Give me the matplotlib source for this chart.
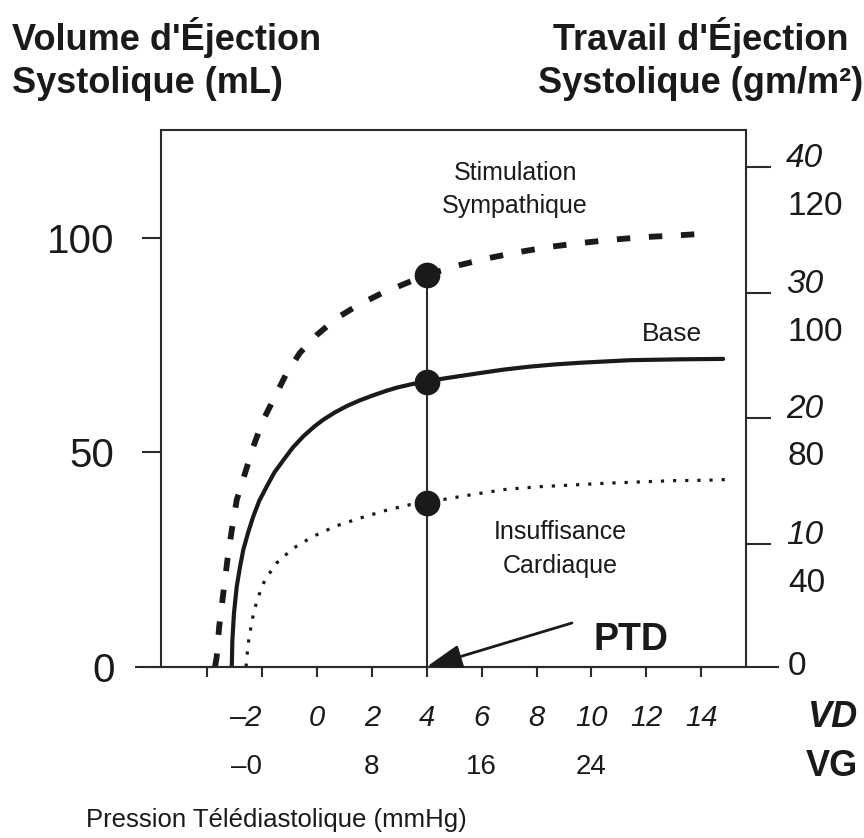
import matplotlib
matplotlib.use('Agg')
import matplotlib.pyplot as plt
from matplotlib.patches import ArrowStyle

plt.rcParams['font.family'] = ['Liberation Sans', 'DejaVu Sans']

# courbes (x = PTD du VD en mmHg, y = VES en mL)
symp_x = [-3.71, -3.65, -3.56, -3.41, -3.26, -3.10, -2.92, -2.62, -2.32, -1.95,
          -1.53, -1.10, -0.62, 0.0, 0.72, 1.51, 2.36, 3.27, 4.0, 5.21,
          6.24, 7.34, 8.43, 9.58, 10.74, 11.89, 13.11, 14.3]
symp_y = [0, 2.3, 9.3, 17.1, 24.9, 31.9, 38.9, 45.1, 51.3, 57.6,
          63.0, 68.5, 73.2, 77.4, 81.3, 84.4, 87.1, 89.5, 91.4, 93.7,
          95.3, 96.7, 97.9, 98.8, 99.6, 100.2, 100.6, 101.1]

base_x = [-3.10, -3.08, -3.02, -2.92, -2.80, -2.68, -2.50, -2.32, -2.10, -1.83,
          -1.55, -1.22, -0.88, -0.50, -0.10, 0.23, 0.65, 1.09, 1.55, 2.05,
          2.50, 2.91, 3.45, 4.0, 4.90, 5.94, 6.80, 7.76, 8.65, 9.58,
          10.50, 11.41, 12.30, 13.23, 14.80]
base_y = [0, 6.0, 12.5, 18.7, 23.3, 27.3, 31.4, 35.0, 38.7, 42.0,
          45.3, 48.2, 51.1, 53.7, 56.0, 57.6, 59.3, 60.8, 62.1, 63.3,
          64.3, 65.1, 65.9, 66.6, 67.5, 68.5, 69.3, 70.0, 70.5, 70.9,
          71.2, 71.5, 71.6, 71.7, 71.8]

insuf_x = [-2.58, -2.51, -2.36, -2.18, -1.89, -1.45, -0.87, -0.14, 0.73, 1.64,
           2.59, 3.39, 4.0, 4.60, 5.70, 6.91, 8.13, 9.34, 10.56, 11.77,
           12.98, 14.20, 15.11]
insuf_y = [0, 5.1, 10.9, 15.6, 20.3, 24.3, 27.6, 30.4, 32.9, 34.8,
           36.6, 37.8, 38.3, 39.0, 40.2, 41.4, 42.0, 42.4, 42.8, 43.1,
           43.4, 43.5, 43.7]

ptd = 4
pts_y = [91.4, 66.4, 38.3]

left_ticks = [0, 50, 100]
vd_ticks = [-4, -2, 0, 2, 4, 6, 8, 10, 12, 14]
vd_labels = ['', '–2', '0', '2', '4', '6', '8', '10', '12', '14']
vg_pos = [-2, 2, 6, 10]
vg_labels = ['–0', '8', '16', '24']
# travail d'ejection : graduations en italique (VD) et valeurs droites (VG)
work_ticks = [28.6, 58.0, 87.2, 116.6]
work_labels = ['10', '20', '30', '40']
work2_pos = [107.4, 77.9, 49.0, 19.5, 0]
work2_labels = ['120', '100', '80', '40', '0']

ink = '#1a1a1a'
axc = '#2b2b2b'

fig = plt.figure(figsize=(8.64, 8.38), dpi=100)
ax = fig.add_axes([0.1863, 0.2044, 0.6771, 0.6405])
ax.set_xlim(-5.68, 15.63)
ax.set_ylim(0, 125.2)

for s in ax.spines.values():
    s.set_color(axc)
    s.set_linewidth(1.5)

ax.plot(symp_x, symp_y, color=ink, lw=4.2, dashes=(2.3, 3.2), solid_capstyle='butt')
ax.plot(base_x, base_y, color=ink, lw=3, solid_capstyle='round', solid_joinstyle='round')
ax.plot(insuf_x, insuf_y, color=ink, lw=2.3, dashes=(1.0, 2.8))

ax.plot([ptd, ptd], [0, pts_y[0]], color=axc, lw=1.5, zorder=3)
ax.plot([ptd] * len(pts_y), pts_y, 'o', color=ink, ms=17.5, zorder=4, clip_on=False)

# prolongement de l'axe des x a gauche et a droite
ax.plot([-0.0444, 1.0564], [0, 0], transform=ax.transAxes, color=axc, lw=1.5,
        clip_on=False, solid_capstyle='butt')

ax.set_yticks(left_ticks)
ax.tick_params(axis='y', direction='out', length=13.5, width=1.5, color=axc,
               labelsize=29, pad=20, labelcolor=ink)
ax.set_xticks(vd_ticks, labels=vd_labels)
ax.tick_params(axis='x', direction='out', length=7, width=1.5, color=axc,
               labelsize=21, pad=20, labelcolor=ink)
for lab in ax.get_xticklabels():
    lab.set_fontstyle('italic')
    if lab.get_text().startswith('–'):
        lab.set_ha('right')

tr = ax.get_xaxis_transform()
for p, l in zip(vg_pos, vg_labels):
    ax.text(p, -0.187, l, transform=tr, ha='right' if l.startswith('–') else 'center',
            va='center', fontsize=20, color=ink)

ax2 = ax.twinx()
ax2.set_ylim(ax.get_ylim())
for s in ax2.spines.values():
    s.set_visible(False)
ax2.set_yticks(work_ticks, labels=work_labels)
ax2.tick_params(axis='y', direction='out', length=18, width=1.5, color=axc,
                labelsize=24, pad=11, labelcolor=ink)
for lab in ax2.get_yticklabels():
    lab.set_fontstyle('italic')
    lab.set_va('baseline')

tr2 = ax.get_yaxis_transform()
for p, l in zip(work2_pos, work2_labels):
    ax.text(1.0718, p, l, transform=tr2, ha='left', va='center', fontsize=24, color=ink)

ax.text(7.22, 111.3, 'Stimulation\nSympathique', ha='center', va='center',
        fontsize=18, linespacing=1.5, color=ink)
ax.text(12.94, 77.6, 'Base', ha='center', va='center', fontsize=19, color=ink)
ax.text(8.86, 27.5, 'Insuffisance\nCardiaque', ha='center', va='center',
        fontsize=18, linespacing=1.5, color=ink)
ax.text(11.45, 6.2, 'PTD', ha='center', va='center', fontsize=27,
        fontweight='bold', color=ink)
ax.annotate('', xy=(ptd, 0), xytext=(9.29, 10.2),
            arrowprops=dict(arrowstyle=ArrowStyle('-|>', head_length=0.6, head_width=0.2),
                            mutation_scale=36, lw=2, color=ink,
                            shrinkA=0, shrinkB=0), zorder=5)

fig.text(12 / 864, 1 - 17 / 838, "Volume d'Éjection\nSystolique (mL)", ha='left',
         va='top', fontsize=26, fontweight='bold', linespacing=1.3, color=ink)
fig.text(701 / 864, 1 - 17 / 838, "Travail d'Éjection\nSystolique (gm/m²)",
         ha='center', va='top', fontsize=26, fontweight='bold', linespacing=1.3,
         multialignment='center', color=ink)
fig.text(858 / 864, 1 - 717 / 838, 'VD', ha='right', va='center', fontsize=26,
         fontweight='bold', fontstyle='italic', color=ink)
fig.text(858 / 864, 1 - 766 / 838, 'VG', ha='right', va='center', fontsize=26,
         fontweight='bold', color=ink)
fig.text(86 / 864, 1 - 827 / 838, 'Pression Télédiastolique (mmHg)', ha='left',
         va='baseline', fontsize=18.5, color=ink)

fig.savefig('out.png', dpi=100, facecolor='white')
